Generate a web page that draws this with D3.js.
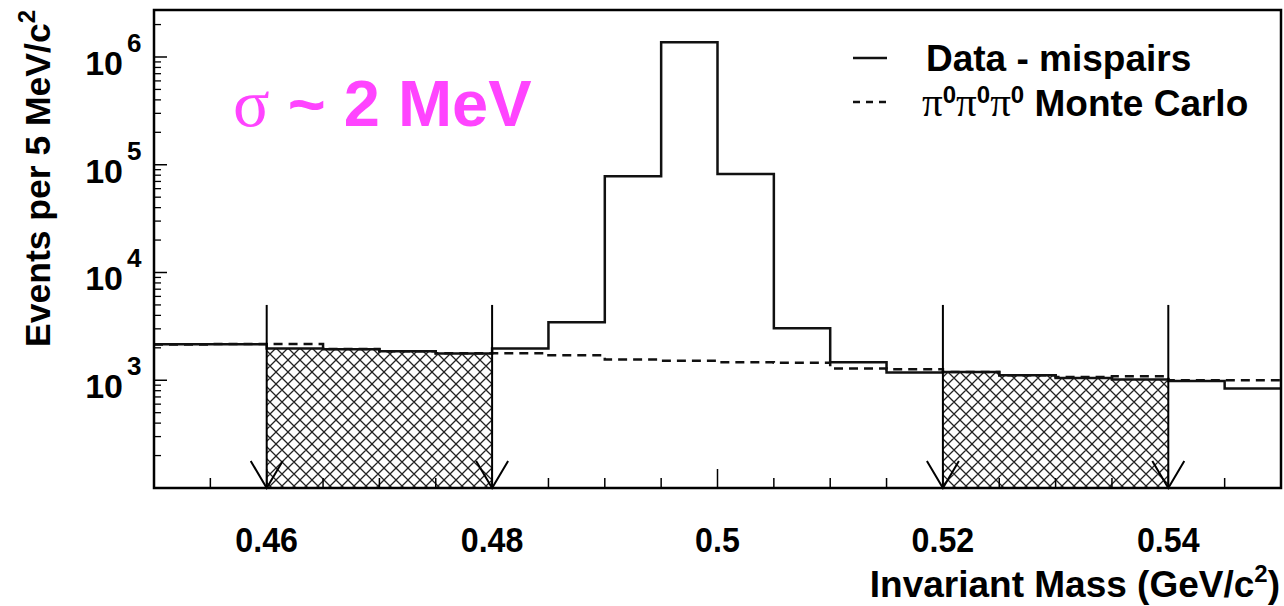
<!DOCTYPE html>
<html>
<head>
<meta charset="utf-8">
<script src="https://cdn.jsdelivr.net/npm/d3@7"></script>
<style>
  body { margin: 0; background: #fff; }
  svg text { font-family: "Liberation Sans", Arial, sans-serif; font-weight: bold; fill: #000; }
</style>
</head>
<body>
<svg id="chart" width="1284" height="606"></svg>
<script>
// =========================
// DATA
// =========================
const binLow = [0.45, 0.455, 0.46, 0.465, 0.47, 0.475, 0.48, 0.485, 0.49, 0.495,
                0.5, 0.505, 0.51, 0.515, 0.52, 0.525, 0.53, 0.535, 0.54, 0.545];
const binWidth = 0.005;
const dataCounts = [2160, 2160, 1970, 1940, 1860, 1770, 1970, 3450, 78300, 1374000,
                    81900, 3040, 1470, 1180, 1195, 1110, 1050, 1015, 985, 837];
const mcCounts = [2150, 2170, 2170, 1950, 1860, 1780, 1780, 1705, 1560, 1520,
                  1470, 1455, 1284, 1262, 1195, 1113, 1073, 1090, 1000, 1000];
const xTickValues = [0.46, 0.48, 0.5, 0.52, 0.54];
const xTickLabels = ["0.46", "0.48", "0.5", "0.52", "0.54"];
const yDecades = [3, 4, 5, 6];
const cutValues = [0.46, 0.48, 0.52, 0.54];
const sidebands = [[0.46, 0.48], [0.52, 0.54]];
const arrowTop = 5000;

// =========================
// SCALE E ASSI
// =========================
const plotLeft = 154, plotRight = 1281, plotTop = 10, plotBottom = 488;
const svg = d3.select("#chart");

const x = d3.scaleLinear().domain([0.45, 0.55]).range([plotLeft, plotRight]);
const y = d3.scaleLog().domain([100, 2.73e6]).range([plotBottom, plotTop]);

// crosshatch
const defs = svg.append("defs");
const pat = defs.append("pattern")
  .attr("id", "hatch")
  .attr("patternUnits", "userSpaceOnUse")
  .attr("width", 12).attr("height", 12);
pat.append("path")
  .attr("d", "M0,0 L12,12 M12,0 L0,12 M-6,6 L6,18 M6,-6 L18,6 M-6,6 L6,-6 M6,18 L18,6")
  .attr("stroke", "#222").attr("stroke-width", 1.3).attr("fill", "none");

function stepPoints(counts, lo, hi) {
  const pts = [];
  binLow.forEach((b, i) => {
    if (b >= lo - 1e-9 && b < hi - 1e-9) pts.push([b, counts[i]]);
  });
  pts.push([hi, pts[pts.length - 1][1]]);
  return pts;
}

const line = d3.line()
  .x(d => x(d[0]))
  .y(d => y(d[1]))
  .curve(d3.curveStepAfter);

const area = d3.area()
  .x(d => x(d[0]))
  .y0(plotBottom)
  .y1(d => y(d[1]))
  .curve(d3.curveStepAfter);

const xEnd = 0.45 + binLow.length * binWidth;

// zone di sideband tratteggiate
sidebands.forEach(sb => {
  svg.append("path")
    .datum(stepPoints(dataCounts, sb[0], sb[1]))
    .attr("d", area)
    .attr("fill", "url(#hatch)")
    .attr("stroke", "none");
});

// Monte Carlo
svg.append("path")
  .datum(stepPoints(mcCounts, 0.45, xEnd))
  .attr("d", line)
  .attr("fill", "none")
  .attr("stroke", "#111")
  .attr("stroke-width", 2.5)
  .attr("stroke-dasharray", "9,6");

// Data - mispairs
svg.append("path")
  .datum(stepPoints(dataCounts, 0.45, xEnd))
  .attr("d", line)
  .attr("fill", "none")
  .attr("stroke", "#111")
  .attr("stroke-width", 2.5);

// frecce dei tagli
cutValues.forEach(c => {
  const cx = x(c);
  svg.append("line")
    .attr("x1", cx).attr("x2", cx)
    .attr("y1", y(arrowTop)).attr("y2", plotBottom)
    .attr("stroke", "#000").attr("stroke-width", 2);
  svg.append("path")
    .attr("d", `M${cx - 16},${plotBottom - 27} L${cx},${plotBottom} L${cx + 16},${plotBottom - 27}`)
    .attr("fill", "none").attr("stroke", "#000").attr("stroke-width", 2);
});

// cornice
svg.append("rect")
  .attr("x", plotLeft).attr("y", plotTop)
  .attr("width", plotRight - plotLeft).attr("height", plotBottom - plotTop)
  .attr("fill", "none").attr("stroke", "#000").attr("stroke-width", 2.5);

// tick asse x
const xMinor = binLow.slice(1);
svg.append("g").selectAll("line")
  .data(xMinor)
  .join("line")
  .attr("x1", d => x(d)).attr("x2", d => x(d))
  .attr("y1", plotBottom)
  .attr("y2", d => xTickValues.some(v => Math.abs(v - d) < 1e-9) ? plotBottom - 19 : plotBottom - 10)
  .attr("stroke", "#000").attr("stroke-width", 1.5);

svg.append("g").selectAll("text")
  .data(xTickValues)
  .join("text")
  .attr("x", d => x(d))
  .attr("y", 552)
  .attr("text-anchor", "middle")
  .attr("font-size", 35)
  .attr("transform", d => `translate(${x(d)},0) scale(0.92,1) translate(${-x(d)},0)`)
  .text((d, i) => xTickLabels[i]);

// tick asse y
const yMinor = [];
[2, 3, 4, 5, 6].forEach(e => {
  [2, 3, 4, 5, 6, 7, 8, 9].forEach(m => {
    const v = m * Math.pow(10, e);
    if (v < y.domain()[1]) yMinor.push(v);
  });
});
svg.append("g").selectAll("line")
  .data(yMinor)
  .join("line")
  .attr("x1", plotLeft).attr("x2", plotLeft + 7)
  .attr("y1", d => y(d)).attr("y2", d => y(d))
  .attr("stroke", "#000").attr("stroke-width", 1.3);
svg.append("g").selectAll("line")
  .data(yDecades)
  .join("line")
  .attr("x1", plotLeft).attr("x2", plotLeft + 13)
  .attr("y1", d => y(Math.pow(10, d))).attr("y2", d => y(Math.pow(10, d)))
  .attr("stroke", "#000").attr("stroke-width", 1.5);

const yLab = svg.append("g").selectAll("g")
  .data(yDecades)
  .join("g")
  .attr("transform", d => `translate(0,${y(Math.pow(10, d))})`);
yLab.append("text")
  .attr("x", 123).attr("y", 18)
  .attr("text-anchor", "end")
  .attr("font-size", 34)
  .text("10");
yLab.append("text")
  .attr("x", 127).attr("y", -5)
  .attr("font-size", 26)
  .text(d => d);

// titoli assi
const yTitle = svg.append("text")
  .attr("transform", "translate(50,10) rotate(-90)")
  .attr("text-anchor", "end")
  .attr("font-size", 35.5);
yTitle.append("tspan").text("Events per 5 MeV/c");
yTitle.append("tspan").attr("font-size", 24).attr("dy", -15).text("2");

const xTitle = svg.append("text")
  .attr("x", 1280).attr("y", 597)
  .attr("text-anchor", "end")
  .attr("font-size", 37);
xTitle.append("tspan").text("Invariant Mass (GeV/c");
xTitle.append("tspan").attr("font-size", 24).attr("dy", -15).text("2");
xTitle.append("tspan").attr("dy", 15).text(")");

// legenda
svg.append("line")
  .attr("x1", 853).attr("x2", 887).attr("y1", 58).attr("y2", 58)
  .attr("stroke", "#111").attr("stroke-width", 2.5);
svg.append("text")
  .attr("x", 926).attr("y", 71)
  .attr("font-size", 37)
  .text("Data - mispairs");
svg.append("line")
  .attr("x1", 853).attr("x2", 887).attr("y1", 102).attr("y2", 102)
  .attr("stroke", "#111").attr("stroke-width", 2.5)
  .attr("stroke-dasharray", "7,6");
const mcLeg = svg.append("text")
  .attr("x", 922).attr("y", 116)
  .attr("font-size", 37);
["π", "π", "π"].forEach((p, i) => {
  mcLeg.append("tspan")
    .attr("font-family", "'Liberation Serif', serif")
    .attr("font-weight", "normal")
    .attr("font-size", 41)
    .attr("dy", i === 0 ? 0 : 13)
    .text(p);
  mcLeg.append("tspan").attr("font-size", 24).attr("dy", -13).text("0");
});
mcLeg.append("tspan").attr("dy", 13).text(" Monte Carlo");

// annotazione sigma
const sig = svg.append("text")
  .attr("x", 233).attr("y", 126)
  .attr("font-size", 65)
  .style("fill", "#ff44ff");
sig.append("tspan")
  .attr("font-family", "'Liberation Serif', serif")
  .attr("font-weight", "normal")
  .attr("font-size", 68)
  .style("fill", "#ff44ff")
  .text("σ");
sig.append("tspan").style("fill", "#ff44ff").text(" ~ 2 MeV");
</script>
</body>
</html>
